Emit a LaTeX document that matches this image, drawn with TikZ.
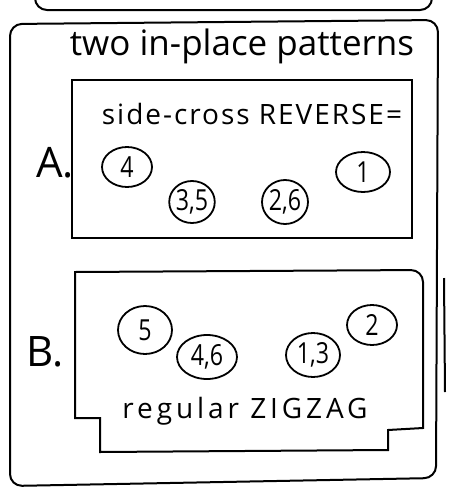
\documentclass[tikz,border=0pt]{standalone}
\usepackage{fontspec}
\setmainfont{Open Sans}
\usetikzlibrary{shapes.geometric}
\tikzset{
  frame/.style={draw, line width=2pt, rounded corners=12pt},
  panel/.style={draw, line width=2pt},
  bead/.style={draw, ellipse, line width=1.8pt, inner sep=0pt, font={\fontsize{29}{31}\selectfont\addfontfeature{FakeStretch=0.8}}},
  lbl/.style={font=\fontsize{42}{44}\selectfont},
  hand/.style={font={\fontsize{28}{30}\selectfont\addfontfeature{LetterSpace=#1}}}
}

\begin{document}
\begin{tikzpicture}[x=1pt,y=-1pt]
\useasboundingbox (0,0) rectangle (448,496);
% frames
\draw[frame] (35,-8) -- (35,10) -- (432,10) -- (432,-8);
\draw[frame] (10,24) -- (438,20) -- (436,478) -- (10,486) -- cycle;
\draw[line width=2pt] (444,278) -- (445,392);
\node[font=\fontsize{35}{37}\selectfont] (title) at (242,46) {two in-place patterns};
% pattern A
\node[panel, minimum width=340pt, minimum height=158pt] (boxA) at (242,159) {};
\node[hand=7] (revA) at (252,114) {side-cross REVERSE=};
\node[lbl] (labA) at (55,163) {A.};
\node[bead, minimum width=50pt, minimum height=40pt] (a4) at (127,167) {4};
\node[bead, minimum width=42pt, minimum height=42pt] (a35) at (192,202) {3,5};
\node[bead, minimum width=46pt, minimum height=44pt] (a26) at (285,202) {2,6};
\node[bead, minimum width=54pt, minimum height=40pt] (a1) at (363,172) {1};
% pattern B
\draw[panel] (75,418) -- (75,272) [rounded corners=12pt] -- (423,270) [sharp corners] -- (423,428) -- (388,430) -- (388,450) -- (100,452) -- (100,418) -- cycle;
\node[lbl] (labB) at (45,352) {B.};
\node[bead, minimum width=54pt, minimum height=48pt] (b5) at (145,330) {5};
\node[bead, minimum width=60pt, minimum height=44pt] (b46) at (207,357) {4,6};
\node[bead, minimum width=54pt, minimum height=44pt] (b13) at (313,355) {1,3};
\node[bead, minimum width=50pt, minimum height=40pt] (b2) at (372,325) {2};
\node[hand=14] (zigB) at (245,411) {regular ZIGZAG};
\end{tikzpicture}
\end{document}
